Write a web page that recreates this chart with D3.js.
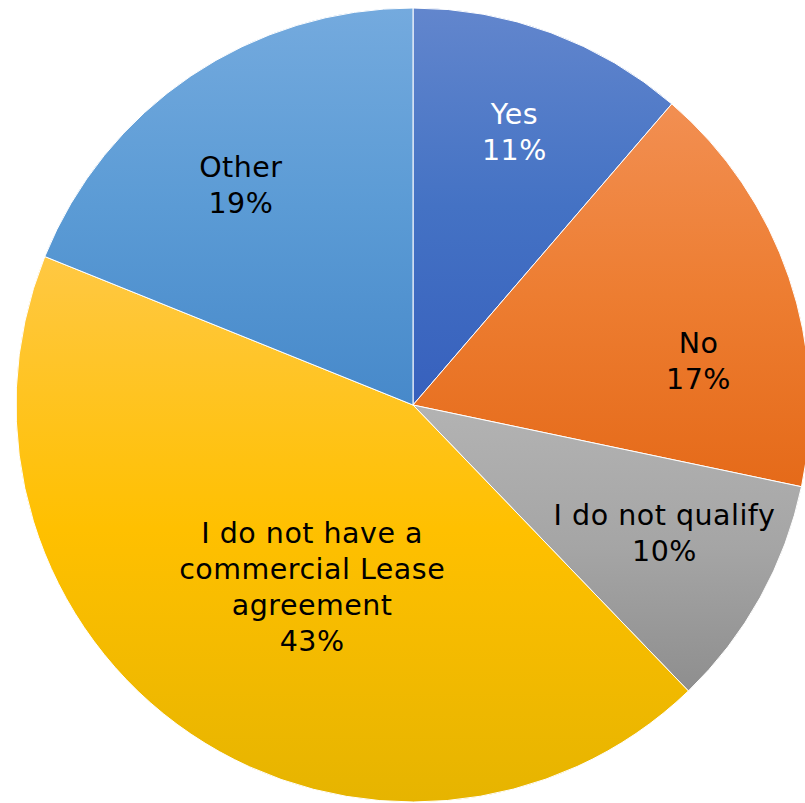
<!DOCTYPE html>
<html>
<head>
<meta charset="utf-8">
<script src="https://cdn.jsdelivr.net/npm/d3@7"></script>
<style>
  html, body { margin: 0; padding: 0; background: #ffffff; }
  svg { display: block; }
</style>
</head>
<body>
<svg id="chart" width="805" height="803"></svg>
<script>
// ---- data ----
const categories = ["Yes", "No", "I do not qualify", "I do not have a commercial Lease agreement", "Other"];
const labelLines = [["Yes"], ["No"], ["I do not qualify"], ["I do not have a", "commercial Lease", "agreement"], ["Other"]];
const shares = [11.3, 17.0, 9.5, 43.3, 18.9];

// ---- styles / layout ----
const topColors    = ["#6286cd", "#f28f52", "#b3b3b3", "#ffc843", "#74aade"];
const midColors    = ["#4472c4", "#ed7d31", "#a5a5a5", "#ffc000", "#5b9bd5"];
const bottomColors = ["#3760bd", "#e56a19", "#8e8e8e", "#e6b400", "#4789ca"];
const textColors   = ["#ffffff", "#000000", "#000000", "#000000", "#000000"];
const labelRadiusFrac = [0.733, 0.727, 0.71, 0.525, 0.705];
const labelAngleShift = [0, 10, -2, -5, -4]; // degrees

const W = 805, H = 803;
const cx = 413, cy = 405, R = 397;
const fontSize = 28.5, letterSp = 0.5, lineH = 36, capH = 20;

const svg = d3.select("#chart");
const defs = svg.append("defs");

const data = categories.map((c, i) => ({ cat: c, value: shares[i], i }));

const pie = d3.pie().value(d => d.value).sort(null);
const arcs = pie(data);
const arc = d3.arc().innerRadius(0).outerRadius(R);

arcs.forEach((a, i) => {
  const g = defs.append("linearGradient")
    .attr("id", "grad" + i)
    .attr("x1", 0).attr("y1", 0).attr("x2", 0).attr("y2", 1);
  g.append("stop").attr("offset", "0%").attr("stop-color", topColors[i]);
  g.append("stop").attr("offset", "50%").attr("stop-color", midColors[i]);
  g.append("stop").attr("offset", "100%").attr("stop-color", bottomColors[i]);
});

const gPie = svg.append("g").attr("transform", `translate(${cx},${cy})`);

gPie.selectAll("path.slice")
  .data(arcs)
  .join("path")
  .attr("class", "slice")
  .attr("d", arc)
  .attr("fill", (d, i) => `url(#grad${i})`)
  .attr("stroke", "#ffffff")
  .attr("stroke-width", 1)
  .attr("stroke-linejoin", "round");

const gLabels = svg.append("g").attr("transform", `translate(${cx},${cy})`);

arcs.forEach((a, i) => {
  const mid = (a.startAngle + a.endAngle) / 2 + labelAngleShift[i] * Math.PI / 180;
  const r = R * labelRadiusFrac[i];
  const x = r * Math.sin(mid) + letterSp / 2;
  const y = -r * Math.cos(mid);
  const lines = labelLines[i].concat([Math.round(a.data.value) + "%"]);
  const blockH = (lines.length - 1) * lineH + capH;
  const firstBaseline = y - blockH / 2 + capH;
  const t = gLabels.append("text")
    .attr("text-anchor", "middle")
    .attr("font-family", "'DejaVu Sans', Verdana, sans-serif")
    .attr("font-size", fontSize)
    .attr("letter-spacing", letterSp)
    .attr("fill", textColors[i]);
  lines.forEach((ln, k) => {
    t.append("tspan")
      .attr("x", x)
      .attr("y", firstBaseline + k * lineH)
      .text(ln);
  });
});
</script>
</body>
</html>
